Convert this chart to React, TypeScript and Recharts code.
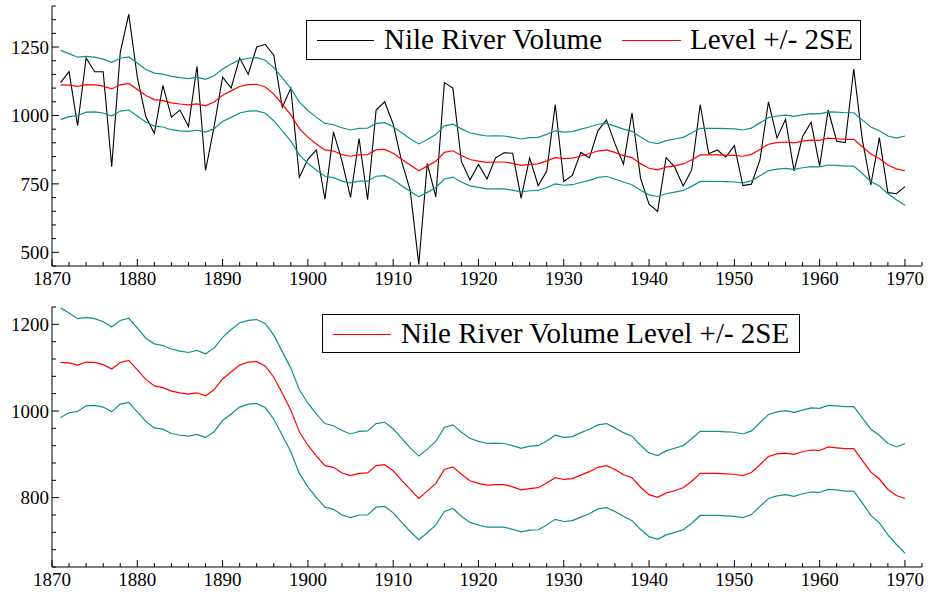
import React from 'react'
import { LineChart, Line, XAxis, YAxis } from 'recharts'

// Nile river volume, 1871-1970, with smoothed level and +/- 2SE bands
const years = Array.from({ length: 100 }, (_, i) => 1871 + i)

const nile = [
  1120, 1160, 963, 1210, 1160, 1160, 813, 1230, 1370, 1140,
  995, 935, 1110, 994, 1020, 960, 1180, 799, 958, 1140,
  1100, 1210, 1150, 1250, 1260, 1220, 1030, 1100, 774, 840,
  874, 694, 940, 833, 701, 916, 692, 1020, 1050, 969,
  831, 726, 456, 824, 702, 1120, 1100, 832, 764, 821,
  768, 845, 864, 862, 698, 845, 744, 796, 1040, 759,
  781, 865, 845, 944, 984, 897, 822, 1010, 771, 676,
  649, 846, 812, 742, 801, 1040, 860, 874, 848, 890,
  744, 749, 838, 1050, 918, 986, 797, 923, 975, 815,
  1020, 906, 901, 1170, 912, 746, 919, 718, 714, 740,
]

const level = [
  1112, 1111, 1106, 1113, 1112, 1107, 1097, 1112, 1117, 1095,
  1073, 1058, 1054, 1046, 1042, 1039, 1042, 1035, 1049, 1074,
  1090, 1106, 1113, 1114, 1104, 1078, 1041, 1002, 952, 921,
  896, 874, 870, 857, 851, 856, 857, 874, 876, 862,
  840, 819, 798, 815, 833, 865, 871, 854, 839, 833,
  829, 830, 830, 825, 818, 821, 823, 834, 846, 842,
  844, 852, 860, 870, 874, 865, 853, 846, 824, 807,
  801, 811, 816, 823, 838, 856, 856, 856, 855, 854,
  851, 858, 876, 895, 901, 903, 900, 906, 910, 909,
  917, 915, 913, 913, 886, 859, 843, 819, 805, 798,
]

const upper = [
  1238, 1226, 1213, 1216, 1213, 1206, 1194, 1209, 1214, 1192,
  1168, 1155, 1151, 1143, 1138, 1135, 1140, 1132, 1145, 1170,
  1188, 1203, 1209, 1211, 1202, 1175, 1137, 1099, 1049, 1018,
  993, 971, 966, 955, 947, 953, 954, 971, 974, 959,
  937, 915, 896, 912, 930, 962, 968, 951, 937, 930,
  925, 926, 925, 920, 914, 919, 920, 931, 944, 939,
  941, 950, 958, 968, 971, 961, 950, 942, 921, 903,
  897, 908, 914, 920, 936, 953, 953, 953, 952, 951,
  947, 954, 973, 992, 998, 1001, 997, 1002, 1007, 1006,
  1013, 1012, 1010, 1010, 984, 958, 944, 925, 917, 925,
]

const lower = [
  985, 996, 999, 1012, 1013, 1009, 998, 1016, 1020, 998,
  976, 961, 958, 948, 944, 942, 946, 939, 952, 978,
  993, 1009, 1016, 1017, 1008, 981, 944, 906, 856, 825,
  800, 778, 773, 760, 754, 760, 760, 778, 780, 765,
  743, 722, 703, 719, 737, 768, 775, 757, 743, 737,
  732, 732, 732, 727, 721, 725, 726, 737, 750, 745,
  747, 755, 763, 774, 777, 768, 757, 747, 727, 710,
  704, 714, 720, 726, 741, 759, 759, 759, 758, 757,
  754, 761, 780, 798, 804, 807, 803, 809, 813, 812,
  819, 818, 815, 815, 788, 759, 742, 714, 692, 672,
]

const xTicks = Array.from({ length: 52 }, (_, i) => 1870 + i * 2)
const xLabels = [1870, 1880, 1890, 1900, 1910, 1920, 1930, 1940, 1950, 1960, 1970]

const topYTicks = Array.from({ length: 20 }, (_, i) => 450 + i * 50)
const topYLabels = [500, 750, 1000, 1250]

const bottomYTicks = Array.from({ length: 16 }, (_, i) => 640 + i * 40)
const bottomYLabels = [800, 1000, 1200]

const data = years.map((year, i) => ({
  year,
  nile: nile[i],
  level: level[i],
  upper: upper[i],
  lower: lower[i],
}))

const FONT = '"Liberation Serif", "Times New Roman", serif'
const TEAL = '#0f8f8f'
const RED = '#ff0000'

const XTick = (props: any) => {
  const { x, y, payload } = props
  const major = xLabels.includes(payload.value)
  return (
    <g>
      <line x1={x} y1={y} x2={x} y2={y - (major ? 7 : 4)} stroke="#000" strokeWidth={1} />
      {major && (
        <text x={x} y={y + 19} textAnchor="middle" fontSize={19} fontFamily={FONT} fill="#000">
          {payload.value}
        </text>
      )}
    </g>
  )
}

const makeYTick = (labels: number[]) => (props: any) => {
  const { x, y, payload } = props
  const major = labels.includes(payload.value)
  return (
    <g>
      <line x1={x} y1={y} x2={x + (major ? 7 : 4)} y2={y} stroke="#000" strokeWidth={1} />
      {major && (
        <text x={x - 3} y={y} dy="0.35em" textAnchor="end" fontSize={19} fontFamily={FONT} fill="#000">
          {payload.value}
        </text>
      )}
    </g>
  )
}

const topYTick = makeYTick(topYLabels)
const bottomYTick = makeYTick(bottomYLabels)

function Panel({ height, top, xHeight, yDomain, yTicks, yTick, showNile }: any) {
  return (
    <LineChart
      width={929}
      height={height}
      data={data}
      margin={{ top, right: 7, left: 0, bottom: 0 }}
    >
      <XAxis
        dataKey="year"
        type="number"
        domain={[1870, 1972]}
        ticks={xTicks}
        interval={0}
        allowDataOverflow
        height={xHeight}
        tickSize={0}
        tickMargin={0}
        tickLine={false}
        axisLine={{ stroke: '#000', strokeWidth: 1 }}
        tick={<XTick />}
      />
      <YAxis
        type="number"
        domain={yDomain}
        ticks={yTicks}
        interval={0}
        allowDataOverflow
        width={52}
        tickSize={0}
        tickMargin={0}
        tickLine={false}
        axisLine={{ stroke: '#000', strokeWidth: 1 }}
        tick={yTick}
      />
      {showNile && (
        <Line type="linear" dataKey="nile" stroke="#000" strokeWidth={1.1} dot={false} isAnimationActive={false} />
      )}
      <Line type="linear" dataKey="upper" stroke={TEAL} strokeWidth={1.2} dot={false} isAnimationActive={false} />
      <Line type="linear" dataKey="level" stroke={RED} strokeWidth={1.2} dot={false} isAnimationActive={false} />
      <Line type="linear" dataKey="lower" stroke={TEAL} strokeWidth={1.2} dot={false} isAnimationActive={false} />
    </LineChart>
  )
}

// legend box drawn as plain html on top of the charts
const LegendBox = ({ left, top, width, height, children }: any) => (
  <div
    style={{
      position: 'absolute',
      left,
      top,
      width,
      height,
      boxSizing: 'border-box',
      border: '1px solid #000',
      background: '#fff',
    }}
  >
    {children}
  </div>
)

const Swatch = ({ left, top, width, color }: any) => (
  <div style={{ position: 'absolute', left, top, width, height: 1.2, background: color }} />
)

const Label = ({ left, children }: any) => (
  <span
    style={{
      position: 'absolute',
      left,
      top: 0,
      fontSize: 29,
      lineHeight: '37px',
      fontFamily: FONT,
      color: '#000',
      whiteSpace: 'nowrap',
    }}
  >
    {children}
  </span>
)

export default function App() {
  return (
    <div
      style={{
        position: 'absolute',
        left: 0,
        top: 0,
        width: 929,
        height: 593,
        background: '#fff',
        fontFamily: FONT,
      }}
    >
      <div style={{ position: 'absolute', left: 0, top: 0 }}>
        <Panel height={295} top={6} xHeight={29} yDomain={[450, 1400]} yTicks={topYTicks} yTick={topYTick} showNile />
      </div>
      <div style={{ position: 'absolute', left: 0, top: 295 }}>
        <Panel height={298} top={12} xHeight={26} yDomain={[640, 1240]} yTicks={bottomYTicks} yTick={bottomYTick} showNile={false} />
      </div>

      <LegendBox left={306} top={20} width={555} height={40}>
        <Swatch left={10} top={18.5} width={57} color="#000" />
        <Label left={77}>Nile River Volume</Label>
        <Swatch left={315} top={18.5} width={59} color={RED} />
        <Label left={383}>Level +/- 2SE</Label>
      </LegendBox>

      <LegendBox left={322} top={314} width={478} height={39}>
        <Swatch left={10} top={18.5} width={58} color={RED} />
        <Label left={78}>Nile River Volume Level +/- 2SE</Label>
      </LegendBox>
    </div>
  )
}
